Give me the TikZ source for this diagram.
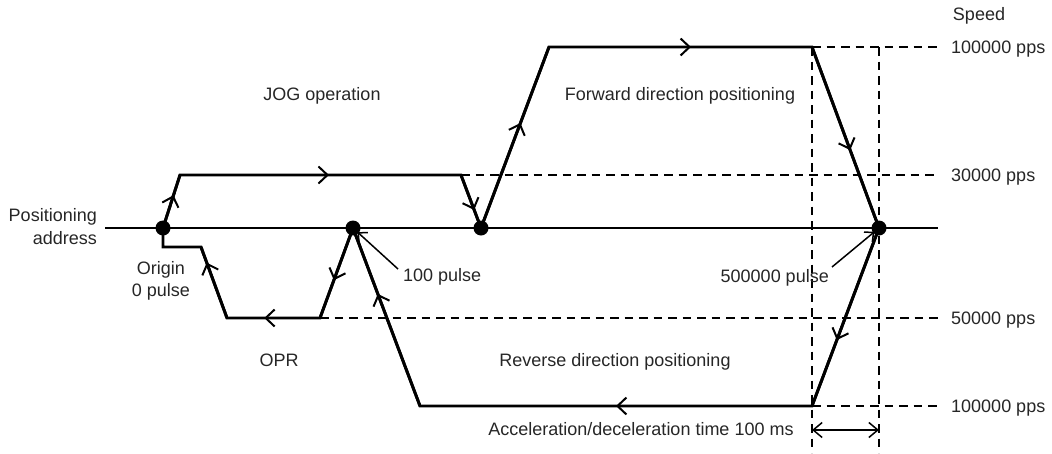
\documentclass[tikz,border=0pt]{standalone}
\usepackage{fontspec}
\setmainfont{Liberation Sans}
\usetikzlibrary{arrows.meta,decorations.markings}
\begin{document}
\begin{tikzpicture}[x=1pt,y=-1pt,
  trace/.style={line width=2.9pt, line join=miter, line cap=butt},
  dsh/.style={line width=1.6pt, dash pattern=on 8.5pt off 6pt},
  lbl/.style={inner sep=0pt, text=black!85, font=\fontsize{18}{21}\selectfont},
  mk/.style={postaction={decorate, decoration={markings, mark=at position #1 with {\arrow{Straight Barb[length=9pt,width=17pt,line width=2pt]}}}}},
  dot/.style={circle, fill=black, inner sep=0pt, minimum size=15pt},
  pointer/.style={line width=1.5pt, -{Straight Barb[length=7pt,width=13pt,line width=1.5pt]}, shorten >=6pt}
]
\useasboundingbox (0,0) rectangle (1052,453);
% key coordinates
\coordinate (aL) at (105,228);
\coordinate (aR) at (938,228);
\coordinate (o) at (163,228);
\coordinate (p100) at (353,228);
\coordinate (pj) at (481,228);
\coordinate (p5) at (879,228);
\coordinate (j1) at (180,175);
\coordinate (j2) at (461,175);
\coordinate (r1) at (163,247);
\coordinate (r2) at (201,247);
\coordinate (r3) at (227,318);
\coordinate (r4) at (320,318);
\coordinate (f1) at (549,47);
\coordinate (f2) at (812,47);
\coordinate (b1) at (812,406);
\coordinate (b2) at (420,406);
\coordinate (d1) at (938,47);
\coordinate (d2) at (938,175);
\coordinate (d3) at (938,318);
\coordinate (d4) at (938,406);
\coordinate (v1) at (812,453);
\coordinate (v2t) at (879,47);
\coordinate (v2) at (879,453);
\coordinate (t1) at (812,430);
\coordinate (t2) at (879,430);
\coordinate (q1) at (398,269);
\coordinate (q2) at (832,267);

% dashed guide lines
\draw[dsh] (j2) -- (d2);
\draw[dsh] (r4) -- (d3);
\draw[dsh] (f2) -- (d1);
\draw[dsh] (b1) -- (d4);
\draw[dsh] (f2) -- (v1);
\draw[dsh] (v2t) -- (v2);

% axis
\draw[trace] (aL) -- (aR);

% JOG
\draw[trace] (o) -- (j1) -- (j2) -- (pj);
\draw[trace, mk=0.62] (o) -- (j1);
\draw[trace, mk=0.53] (j1) -- (j2);
\draw[trace, mk=0.66] (j2) -- (pj);

% OPR
\draw[trace] (p100) -- (r4) -- (r3) -- (r2) -- (r1) -- (o);
\draw[trace, mk=0.58] (p100) -- (r4);
\draw[trace, mk=0.6] (r4) -- (r3);
\draw[trace, mk=0.78] (r3) -- (r2);

% Forward
\draw[trace] (pj) -- (f1) -- (f2) -- (p5);
\draw[trace, mk=0.58] (pj) -- (f1);
\draw[trace, mk=0.54] (f1) -- (f2);
\draw[trace, mk=0.57] (f2) -- (p5);

% Reverse
\draw[trace] (p5) -- (b1) -- (b2) -- (p100);
\draw[trace, mk=0.63] (p5) -- (b1);
\draw[trace, mk=0.5] (b1) -- (b2);
\draw[trace, mk=0.63] (b2) -- (p100);

% pointers
\draw[pointer] (q1) -- (p100);
\draw[pointer] (q2) -- (p5);

% time arrow
\draw[line width=1.5pt, {Straight Barb[length=9pt,width=15pt,line width=1.5pt]}-{Straight Barb[length=9pt,width=15pt,line width=1.5pt]}] (t1) -- (t2);

% dots
\node[dot] (n0) at (o) {};
\node[dot] (n1) at (p100) {};
\node[dot] (n2) at (pj) {};
\node[dot] (n3) at (p5) {};

% labels
\node[lbl, anchor=base] (sp) at (979,20.5) {Speed};
\node[lbl, anchor=base west] (s1) at (951,53.5) {100000 pps};
\node[lbl, anchor=base west] (s2) at (951,181.5) {30000 pps};
\node[lbl, anchor=base west] (s3) at (951,324.5) {50000 pps};
\node[lbl, anchor=base west] (s4) at (951,412.5) {100000 pps};
\node[lbl, anchor=base] (jog) at (322,100.5) {JOG operation};
\node[lbl, anchor=base] (fwd) at (680,100) {Forward direction positioning};
\node[lbl, anchor=base] (rev) at (615,366.5) {Reverse direction positioning};
\node[lbl, anchor=base] (opr) at (279,366) {OPR};
\node[lbl, anchor=base] (acc) at (641,435) {Acceleration/deceleration time 100 ms};
\node[lbl, anchor=base east] (pos1) at (97,221.7) {Positioning};
\node[lbl, anchor=base east] (pos2) at (97,244) {address};
\node[lbl, anchor=base] (org1) at (161,274) {Origin};
\node[lbl, anchor=base] (org2) at (161,296) {0 pulse};
\node[lbl, anchor=base west] (hp) at (403,281.7) {100 pulse};
\node[lbl, anchor=base east] (fp) at (829,282) {500000 pulse};
\end{tikzpicture}
\end{document}
